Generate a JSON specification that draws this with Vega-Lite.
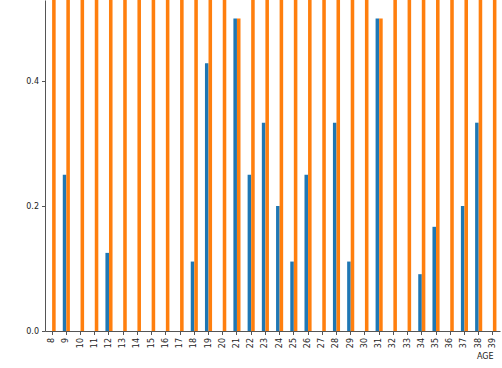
{
  "$schema": "https://vega.github.io/schema/vega-lite/v6.json",
  "autosize": "none",
  "width": 455,
  "height": 331,
  "padding": {"left": 45, "top": 0, "right": 2, "bottom": 37},
  "background": "white",
  "config": {
    "view": {"stroke": null},
    "axis": {"labelFont": "DejaVu Sans", "titleFont": "DejaVu Sans", "labelFontSize": 8, "titleFontSize": 8, "titleFontWeight": "normal", "domainColor": "#555", "tickColor": "#555", "labelColor": "#222", "titleColor": "#222", "grid": false, "tickSize": 3.5}
  },
  "data": {
    "values": [
      {"AGE": 8, "s": "0", "v": 0}, {"AGE": 8, "s": "1", "v": 1},
      {"AGE": 9, "s": "0", "v": 0.25}, {"AGE": 9, "s": "1", "v": 0.75},
      {"AGE": 10, "s": "0", "v": 0}, {"AGE": 10, "s": "1", "v": 1},
      {"AGE": 11, "s": "0", "v": 0}, {"AGE": 11, "s": "1", "v": 1},
      {"AGE": 12, "s": "0", "v": 0.125}, {"AGE": 12, "s": "1", "v": 0.875},
      {"AGE": 13, "s": "0", "v": 0}, {"AGE": 13, "s": "1", "v": 1},
      {"AGE": 14, "s": "0", "v": 0}, {"AGE": 14, "s": "1", "v": 1},
      {"AGE": 15, "s": "0", "v": 0}, {"AGE": 15, "s": "1", "v": 1},
      {"AGE": 16, "s": "0", "v": 0}, {"AGE": 16, "s": "1", "v": 1},
      {"AGE": 17, "s": "0", "v": 0}, {"AGE": 17, "s": "1", "v": 1},
      {"AGE": 18, "s": "0", "v": 0.1111}, {"AGE": 18, "s": "1", "v": 0.8889},
      {"AGE": 19, "s": "0", "v": 0.4286}, {"AGE": 19, "s": "1", "v": 0.5714},
      {"AGE": 20, "s": "0", "v": 0}, {"AGE": 20, "s": "1", "v": 1},
      {"AGE": 21, "s": "0", "v": 0.5}, {"AGE": 21, "s": "1", "v": 0.5},
      {"AGE": 22, "s": "0", "v": 0.25}, {"AGE": 22, "s": "1", "v": 0.75},
      {"AGE": 23, "s": "0", "v": 0.3333}, {"AGE": 23, "s": "1", "v": 0.6667},
      {"AGE": 24, "s": "0", "v": 0.2}, {"AGE": 24, "s": "1", "v": 0.8},
      {"AGE": 25, "s": "0", "v": 0.1111}, {"AGE": 25, "s": "1", "v": 0.8889},
      {"AGE": 26, "s": "0", "v": 0.25}, {"AGE": 26, "s": "1", "v": 0.75},
      {"AGE": 27, "s": "0", "v": 0}, {"AGE": 27, "s": "1", "v": 1},
      {"AGE": 28, "s": "0", "v": 0.3333}, {"AGE": 28, "s": "1", "v": 0.6667},
      {"AGE": 29, "s": "0", "v": 0.1111}, {"AGE": 29, "s": "1", "v": 0.8889},
      {"AGE": 30, "s": "0", "v": 0}, {"AGE": 30, "s": "1", "v": 1},
      {"AGE": 31, "s": "0", "v": 0.5}, {"AGE": 31, "s": "1", "v": 0.5},
      {"AGE": 32, "s": "0", "v": 0}, {"AGE": 32, "s": "1", "v": 1},
      {"AGE": 33, "s": "0", "v": 0}, {"AGE": 33, "s": "1", "v": 1},
      {"AGE": 34, "s": "0", "v": 0.0909}, {"AGE": 34, "s": "1", "v": 0.9091},
      {"AGE": 35, "s": "0", "v": 0.1667}, {"AGE": 35, "s": "1", "v": 0.8333},
      {"AGE": 36, "s": "0", "v": 0}, {"AGE": 36, "s": "1", "v": 1},
      {"AGE": 37, "s": "0", "v": 0.2}, {"AGE": 37, "s": "1", "v": 0.8},
      {"AGE": 38, "s": "0", "v": 0.3333}, {"AGE": 38, "s": "1", "v": 0.6667},
      {"AGE": 39, "s": "0", "v": 0}, {"AGE": 39, "s": "1", "v": 1}
    ]
  },
  "mark": {"type": "bar", "clip": true},
  "encoding": {
    "x": {
      "field": "AGE", "type": "ordinal",
      "scale": {"paddingInner": 0.5, "paddingOuter": 0.25},
      "axis": {"title": "AGE", "labelAngle": -90, "titleX": 448, "titleY": 27, "titleAlign": "right", "titleBaseline": "alphabetic", "labelPadding": 3}
    },
    "xOffset": {"field": "s", "type": "nominal", "scale": {"paddingInner": 0, "paddingOuter": 0}},
    "y": {
      "field": "v", "type": "quantitative",
      "scale": {"domain": [0, 0.5296], "nice": false, "zero": true},
      "axis": {"title": null, "values": [0, 0.2, 0.4], "format": ".1f", "labelPadding": 3}
    },
    "color": {
      "field": "s", "type": "nominal",
      "scale": {"domain": ["0", "1"], "range": ["#1f77b4", "#ff7f0e"]},
      "legend": null
    }
  }
}
